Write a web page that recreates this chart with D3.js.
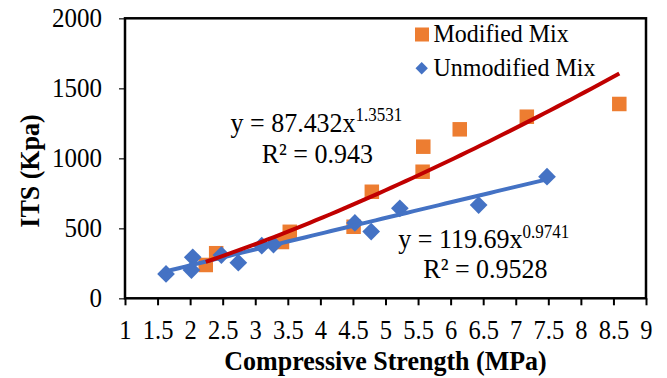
<!DOCTYPE html>
<html>
<head>
<meta charset="utf-8">
<script src="https://cdn.jsdelivr.net/npm/d3@7"></script>
<style>
  html, body { margin: 0; padding: 0; background: #fff; }
  svg { display: block; font-family: "Liberation Serif", "Times New Roman", serif; }
</style>
</head>
<body>
<svg id="chart" width="667" height="378"></svg>
<script>
// Compressive strength (MPa) vs indirect tensile strength (kPa)
const modifiedX   = [2.24, 2.40, 3.41, 3.53, 4.51, 4.79, 5.57, 5.58, 6.14, 7.17, 8.59];
const modifiedY   = [238, 322, 402, 475, 511, 761, 904, 1083, 1207, 1297, 1388];
const unmodifiedX = [1.63, 2.04, 2.02, 2.48, 2.74, 3.10, 3.28, 4.53, 4.78, 5.22, 6.43, 7.48];
const unmodifiedY = [174, 293, 202, 309, 254, 376, 384, 538, 477, 643, 666, 869];

// Power-law fits  y = a * x^b
const modifiedFit   = { a: 87.432, b: 1.3531, r2: "0.943" };
const unmodifiedFit = { a: 119.69, b: 0.9741, r2: "0.9528" };

const xTicks = [1, 1.5, 2, 2.5, 3, 3.5, 4, 4.5, 5, 5.5, 6, 6.5, 7, 7.5, 8, 8.5, 9];
const yTicks = [0, 500, 1000, 1500, 2000];
const seriesNames = ["Modified Mix", "Unmodified Mix"];

const ORANGE = "#ED7D31", BLUE = "#4472C4", RED = "#C00000";
const STRETCH = 1.08;   // slightly tall lettering

const svg = d3.select("#chart");
const plot = { left: 125, right: 646, top: 18.3, bottom: 298.3 };

const x = d3.scaleLinear().domain([1, 9]).range([plot.left, plot.right]);
const y = d3.scaleLinear().domain([0, 2000]).range([plot.bottom, plot.top]);

// text placed at (px, py) baseline, drawn with a small vertical stretch
function label(px, py, size, str, opts = {}) {
  const t = svg.append("text")
    .attr("transform", `translate(${px},${py}) ${opts.rotate ? `rotate(${opts.rotate})` : ""} scale(1,${STRETCH})`)
    .attr("font-size", size)
    .attr("text-anchor", opts.anchor || "start")
    .attr("font-weight", opts.bold ? "bold" : null);
  if (str !== null) t.text(str);
  return t;
}

// axes
const yAxis = svg.append("g")
  .attr("transform", `translate(${plot.left},0)`)
  .call(d3.axisLeft(y).tickValues(yTicks).tickSize(6).tickPadding(17).tickFormat(d => String(d)));
yAxis.select(".domain").remove();
yAxis.selectAll(".tick line").attr("stroke", "#404040").attr("stroke-width", 1.5);
yAxis.selectAll(".tick text").attr("font-size", 25).attr("fill", "#000")
  .attr("font-family", "Liberation Serif")
  .attr("transform", `scale(1,${STRETCH})`);

const xAxis = svg.append("g")
  .attr("transform", `translate(0,${plot.bottom})`)
  .call(d3.axisBottom(x).tickValues(xTicks).tickSize(7).tickPadding(16).tickFormat(d => String(d)));
xAxis.select(".domain").remove();
xAxis.selectAll(".tick line").attr("stroke", "#000").attr("stroke-width", 2);
xAxis.selectAll(".tick text").attr("font-size", 24.5).attr("fill", "#000")
  .attr("font-family", "Liberation Serif")
  .attr("y", 40.7 / STRETCH - 17.4)
  .attr("transform", `scale(1,${STRETCH})`);

// plot frame
svg.append("rect")
  .attr("x", plot.left).attr("y", plot.top)
  .attr("width", plot.right - plot.left).attr("height", plot.bottom - plot.top)
  .attr("fill", "none").attr("stroke", "#000").attr("stroke-width", 2.5);

// axis titles
label(x(5), 370, 26, "Compressive Strength (MPa)", { anchor: "middle", bold: true });
label(39, 171, 26, "ITS (Kpa)", { anchor: "middle", bold: true, rotate: -90 });

// markers
const sq = 14.5, dia = 10;
svg.append("g").selectAll("rect")
  .data(d3.zip(modifiedX, modifiedY)).join("rect")
  .attr("x", d => x(d[0]) - sq / 2).attr("y", d => y(d[1]) - sq / 2)
  .attr("width", sq).attr("height", sq).attr("fill", ORANGE);

const diamond = d3.symbol().type(d3.symbolDiamond2).size(2 * dia * dia);
svg.append("g").selectAll("path")
  .data(d3.zip(unmodifiedX, unmodifiedY)).join("path")
  .attr("transform", d => `translate(${x(d[0])},${y(d[1])})`)
  .attr("d", diamond).attr("fill", BLUE);

// trendlines over the data range of each series
function fitPoints(xs, fit) {
  const [lo, hi] = d3.extent(xs);
  return d3.range(0, 61).map(i => {
    const xv = lo + (hi - lo) * i / 60;
    return [xv, fit.a * Math.pow(xv, fit.b)];
  });
}
const line = d3.line().x(d => x(d[0])).y(d => y(d[1]));
svg.append("path").datum(fitPoints(unmodifiedX, unmodifiedFit))
  .attr("d", line).attr("fill", "none").attr("stroke", BLUE).attr("stroke-width", 4);
svg.append("path").datum(fitPoints(modifiedX, modifiedFit))
  .attr("d", line).attr("fill", "none").attr("stroke", RED).attr("stroke-width", 4);

// trendline equations
function equation(px, py, fit) {
  const t = label(px, py, 26, null);
  t.append("tspan").text(`y = ${fit.a}x`);
  t.append("tspan").attr("dy", -9.5).attr("font-size", 17).text(String(fit.b));
}
equation(230.5, 131.7, modifiedFit);
label(261.7, 163.3, 26, `R² = ${modifiedFit.r2}`);
equation(398.3, 248.3, unmodifiedFit);
label(423.3, 278.3, 26, `R² = ${unmodifiedFit.r2}`);

// legend
svg.append("rect").attr("x", 415).attr("y", 27.5).attr("width", 14).attr("height", 14).attr("fill", ORANGE);
label(433.5, 42, 24, seriesNames[0]);
svg.append("path").attr("transform", "translate(421.7,68.3)")
  .attr("d", d3.symbol().type(d3.symbolDiamond2).size(2 * 7 * 7)).attr("fill", BLUE);
label(433.5, 76, 24, seriesNames[1]);
</script>
</body>
</html>
